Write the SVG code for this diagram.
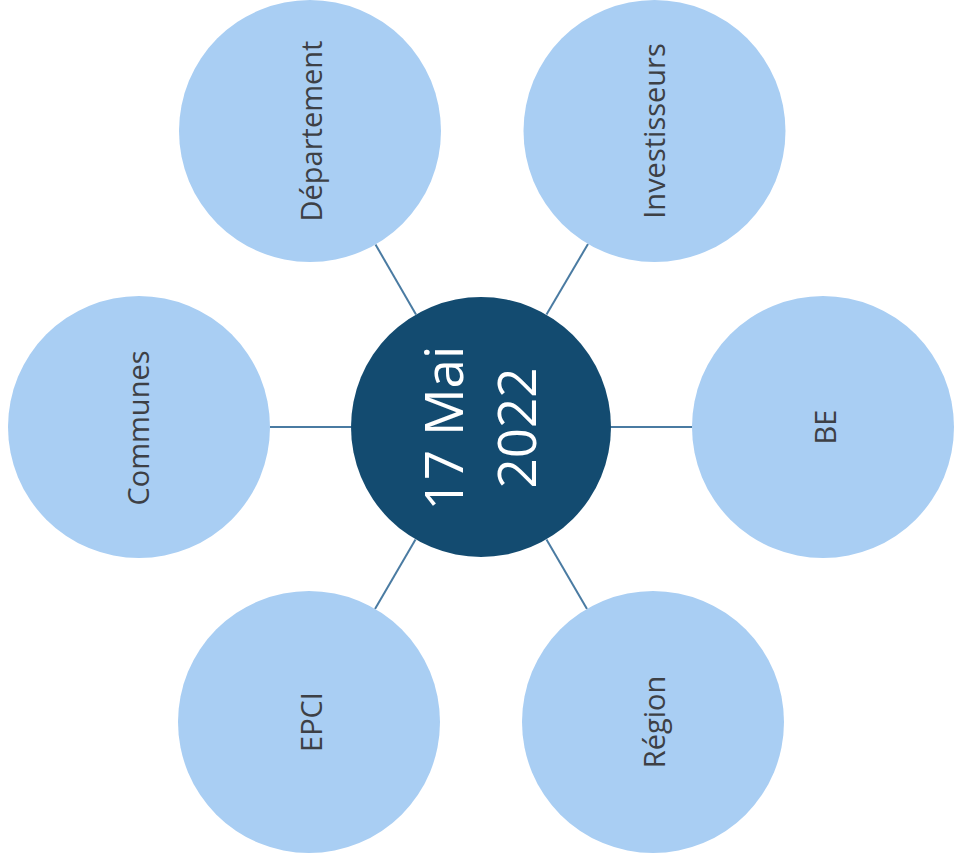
<svg xmlns="http://www.w3.org/2000/svg" width="954" height="865" viewBox="0 0 954 865">
  <style>
    .outer { fill: #a9cef3; }
    .hub { fill: #134b70; }
    .conn { stroke: #4a7ba2; stroke-width: 2; fill: none; }
    .lbl { font-family: "Open Sans", "Liberation Sans", sans-serif; font-size: 29px; fill: #3d4045; text-anchor: middle; }
    .hubtxt { font-family: "Open Sans", "Liberation Sans", sans-serif; font-size: 53px; fill: #ffffff; text-anchor: middle; }
  </style>
  <rect x="0" y="0" width="954" height="865" fill="#ffffff"/>
  <g id="connectors">
    <line class="conn" x1="416" y1="314.5" x2="375.5" y2="244.5"/>
    <line class="conn" x1="546.5" y1="314.5" x2="588" y2="244"/>
    <line class="conn" x1="351" y1="427" x2="270" y2="427"/>
    <line class="conn" x1="611" y1="427" x2="692" y2="427"/>
    <line class="conn" x1="415.5" y1="539.5" x2="375" y2="609"/>
    <line class="conn" x1="546.5" y1="539.5" x2="587" y2="609"/>
  </g>
  <g id="node-departement">
    <circle class="outer" cx="310" cy="131" r="131"/>
    <text class="lbl" transform="translate(322,131) rotate(-90)">Département</text>
  </g>
  <g id="node-investisseurs">
    <circle class="outer" cx="654.5" cy="131" r="131"/>
    <text class="lbl" transform="translate(665,131) rotate(-90)">Investisseurs</text>
  </g>
  <g id="node-communes">
    <circle class="outer" cx="139" cy="427" r="131"/>
    <text class="lbl" transform="translate(149,428) rotate(-90)">Communes</text>
  </g>
  <g id="node-be">
    <circle class="outer" cx="823" cy="427" r="131"/>
    <text class="lbl" transform="translate(836,427) rotate(-90)">BE</text>
  </g>
  <g id="node-epci">
    <circle class="outer" cx="309" cy="722" r="131"/>
    <text class="lbl" transform="translate(322,722) rotate(-90)">EPCI</text>
  </g>
  <g id="node-region">
    <circle class="outer" cx="653" cy="722" r="131"/>
    <text class="lbl" transform="translate(665,722) rotate(-90)">Région</text>
  </g>
  <g id="node-hub">
    <circle class="hub" cx="481" cy="427" r="130"/>
    <text class="hubtxt" transform="translate(463,428) rotate(-90)">17 Mai</text>
    <text class="hubtxt" transform="translate(536,428) rotate(-90)">2022</text>
  </g>
</svg>
